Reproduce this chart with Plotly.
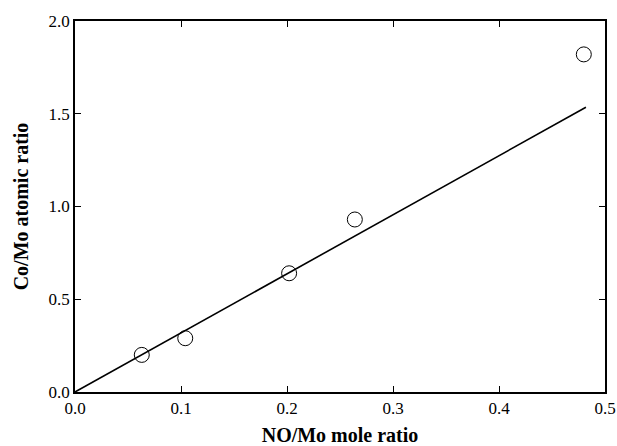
import plotly.graph_objects as go

no_mo = [0.063, 0.104, 0.202, 0.264, 0.480]
co_mo = [0.20, 0.29, 0.64, 0.93, 1.82]
fit_x = [0.0, 0.482]
fit_y = [0.0, 1.535]

fig = go.Figure()
fig.add_trace(go.Scatter(x=fit_x, y=fit_y, mode="lines",
                         line=dict(color="black", width=1.6), showlegend=False))
fig.add_trace(go.Scatter(x=no_mo, y=co_mo, mode="markers",
                         marker=dict(symbol="circle-open", size=15, color="black",
                                     line=dict(width=1)), showlegend=False))

font = "Liberation Serif"
axis_common = dict(showline=True, linecolor="black", linewidth=1.5, mirror="ticks",
                   ticks="inside", ticklen=6, tickwidth=1.2, tickcolor="black",
                   showgrid=False, zeroline=False, automargin=False,
                   tickfont=dict(family=font, size=17, color="black"))

fig.update_layout(
    width=617, height=446,
    margin=dict(l=75, r=12, t=21, b=54),
    paper_bgcolor="white", plot_bgcolor="white",
    font=dict(family=font, color="black"),
    xaxis=dict(range=[0, 0.5], tickvals=[0, 0.1, 0.2, 0.3, 0.4, 0.5],
               ticktext=["0.0", "0.1", "0.2", "0.3", "0.4", "0.5"],
               title=dict(text="<b>NO/Mo mole ratio</b>", standoff=19,
                          font=dict(family=font, size=20, color="black")),
               **axis_common),
    yaxis=dict(range=[0, 2.0], tickvals=[0, 0.5, 1.0, 1.5, 2.0],
               ticktext=["0.0", "0.5", "1.0", "1.5", "2.0"],
               title=dict(text="<b>Co/Mo atomic ratio</b>", standoff=15,
                          font=dict(family=font, size=20, color="black")),
               **axis_common),
)

fig.write_html("out.html")
